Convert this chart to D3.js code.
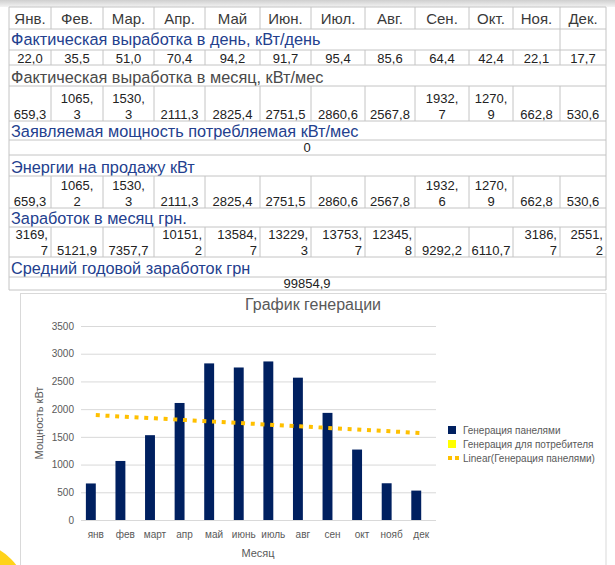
<!DOCTYPE html>
<html>
<head>
<meta charset="utf-8">
<script src="https://cdn.jsdelivr.net/npm/d3@7"></script>
<style>
  html, body { margin: 0; padding: 0; background: #fff; }
  svg { display: block; font-family: 'Liberation Sans', Arial, sans-serif; }
</style>
</head>
<body>
<div id="chart"></div>
<script>
'use strict';

/* Table data */
var tableMonths = ['Янв.', 'Фев.', 'Мар.', 'Апр.', 'Май', 'Июн.', 'Июл.', 'Авг.', 'Сен.', 'Окт.', 'Ноя.', 'Дек.'];
var dayOutput = [22.0, 35.5, 51.0, 70.4, 94.2, 91.7, 95.4, 85.6, 64.4, 42.4, 22.1, 17.7];
var monthOutput = [659.3, 1065.3, 1530.3, 2111.3, 2825.4, 2751.5, 2860.6, 2567.8, 1932.7, 1270.9, 662.8, 530.6];
var declaredPower = 0;
var saleEnergy = [659.3, 1065.2, 1530.3, 2111.3, 2825.4, 2751.5, 2860.6, 2567.8, 1932.6, 1270.9, 662.8, 530.6];
var monthIncome = [3169.7, 5121.9, 7357.7, 10151.2, 13584.7, 13229.3, 13753.7, 12345.8, 9292.2, 6110.7, 3186.7, 2551.2];
var yearIncome = 99854.9;

/* Chart data */
var chartMonths = ['янв', 'фев', 'март', 'апр', 'май', 'июнь', 'июль', 'авг', 'сен', 'окт', 'нояб', 'дек'];
var panelGen = monthOutput;
var consumerGen = [0, 0, 0, 0, 0, 0, 0, 0, 0, 0, 0, 0];
var seriesNames = ['Генерация панелями', 'Генерация для потребителя', 'Linear(Генерация панелями)'];
var yDomain = [0, 3500];

var W = 615, H = 565;
var blue = '#23408e', lineCol = '#c4c4c4';

var svg = d3.select('#chart').append('svg')
    .attr('width', W).attr('height', H);

var fmt = function (v) { return d3.format('.1f')(v).replace('.', ','); };

/* top grey strip */
var grad = svg.append('defs').append('linearGradient')
    .attr('id', 'topg').attr('x1', 0).attr('y1', 0).attr('x2', 0).attr('y2', 1);
grad.append('stop').attr('offset', 0).attr('stop-color', '#cfcfcf');
grad.append('stop').attr('offset', 1).attr('stop-color', '#f3f3f3');
svg.append('rect').attr('x', 0).attr('y', 0).attr('width', W).attr('height', 7).attr('fill', 'url(#topg)');

/* ---------- table ---------- */
var colEdges = [9, 51, 103, 154, 205, 260, 311, 365, 415, 469, 513, 560, 606];
var tbl = svg.append('g');

function hline(y) {
  tbl.append('line').attr('x1', 9).attr('x2', 606).attr('y1', y).attr('y2', y)
    .attr('stroke', lineCol).attr('stroke-width', 1);
}
function vlines(y0, y1, idx) {
  idx.forEach(function (i) {
    tbl.append('line').attr('x1', colEdges[i]).attr('x2', colEdges[i]).attr('y1', y0).attr('y2', y1)
      .attr('stroke', lineCol).attr('stroke-width', 1);
  });
}
var allCols = d3.range(colEdges.length);

function titleRow(y0, y1, text, color, base) {
  hline(y0);
  vlines(y0, y1, [0, 12]);
  tbl.append('text').attr('x', 11).attr('y', y1 - base)
    .attr('font-size', 16.3).attr('fill', color).text(text);
}

function valueRow(y0, y1, vals, wrap, align) {
  hline(y0);
  vlines(y0, y1, allCols);
  vals.forEach(function (v, i) {
    var s = fmt(v), l = colEdges[i], r = colEdges[i + 1];
    var lines = wrap.indexOf(i) >= 0 ? [s.split(',')[0] + ',', s.split(',')[1]] : [s];
    var a = lines.length > 1 ? align : 'middle';
    var x = a === 'end' ? r - 3 : (l + r) / 2;
    lines.forEach(function (t, k) {
      tbl.append('text').attr('x', x).attr('y', y1 - 2 - (lines.length - 1 - k) * 16.5)
        .attr('text-anchor', a).attr('font-size', 13).attr('fill', '#222').text(t);
    });
  });
}

/* header */
hline(7);
vlines(7, 29, allCols);
tableMonths.forEach(function (m, i) {
  tbl.append('text').attr('x', (colEdges[i] + colEdges[i + 1]) / 2).attr('y', 24)
    .attr('text-anchor', 'middle').attr('font-size', 15).attr('fill', '#3a3a3a').text(m);
});

titleRow(29, 50, 'Фактическая выработка в день, кВт/день', blue, 5);
vlines(29, 50, [11]);
valueRow(50, 65, dayOutput, [], 'middle');

titleRow(65, 86, 'Фактическая выработка в месяц, кВт/мес', '#4a4a4a', 3);
valueRow(86, 121, monthOutput, [1, 2, 8, 9], 'middle');

titleRow(121, 140, 'Заявляемая мощность потребляемая кВт/мес', blue, 3);
hline(140);
vlines(140, 155, [0, 12]);
tbl.append('text').attr('x', 307).attr('y', 152).attr('text-anchor', 'middle')
  .attr('font-size', 13).attr('fill', '#222').text(declaredPower);

titleRow(155, 176, 'Энергии на продажу кВт', blue, 3);
valueRow(176, 208, saleEnergy, [1, 2, 8, 9], 'middle');

titleRow(208, 227, 'Заработок в месяц грн.', blue, 3);
valueRow(227, 257, monthIncome, [0, 3, 4, 5, 6, 7, 10, 11], 'end');

titleRow(257, 277, 'Средний годовой заработок грн', blue, 3);
hline(277);
vlines(277, 290, [0, 12]);
tbl.append('text').attr('x', 307).attr('y', 288).attr('text-anchor', 'middle')
  .attr('font-size', 13).attr('fill', '#222').text(fmt(yearIncome));
hline(290);

/* ---------- chart ---------- */
svg.append('rect').attr('x', 20.5).attr('y', 293.5).attr('width', 585.5).attr('height', 290)
  .attr('fill', '#fff').attr('stroke', '#d9d9d9');

svg.append('circle').attr('cx', -30).attr('cy', 600).attr('r', 58).attr('fill', '#ffd31a');

var x0 = d3.scaleBand().domain(chartMonths).range([81, 436])
    .paddingInner(0.33).paddingOuter(0.165);
var x1 = d3.scaleBand().domain(['panel', 'consumer']).range([0, x0.bandwidth()]);
var y = d3.scaleLinear().domain(yDomain).range([520, 326]);

var g = svg.append('g');

svg.append('text').attr('x', 313).attr('y', 310).attr('text-anchor', 'middle')
  .attr('font-size', 16).attr('fill', '#595959').text('График генерации');

/* grid + y axis */
var yAxis = g.append('g').attr('transform', 'translate(81,0)')
  .call(d3.axisLeft(y).tickValues(d3.range(0, 3501, 500)).tickFormat(d3.format('d'))
    .tickSize(-355).tickPadding(7));
yAxis.select('.domain').remove();
yAxis.selectAll('.tick line').attr('stroke', '#d9d9d9');
yAxis.selectAll('.tick text').attr('fill', '#595959').attr('font-size', 10)
  .attr('font-family', "'Liberation Sans', Arial, sans-serif");

/* x labels */
var xAxis = g.append('g').attr('transform', 'translate(0,520)')
  .call(d3.axisBottom(x0).tickSize(0).tickPadding(11));
xAxis.select('.domain').remove();
xAxis.selectAll('.tick text').attr('fill', '#595959').attr('font-size', 10)
  .attr('font-family', "'Liberation Sans', Arial, sans-serif");
/* shift tick labels to centre of the whole category */
xAxis.selectAll('.tick').attr('transform', function (d) {
  return 'translate(' + (x0(d) + x0.bandwidth() / 2) + ',0)';
});

/* bars */
var rows = chartMonths.map(function (m, i) {
  return { m: m, panel: panelGen[i], consumer: consumerGen[i] };
});
var grp = g.selectAll('.cat').data(rows).enter().append('g')
  .attr('transform', function (d) { return 'translate(' + x0(d.m) + ',0)'; });
grp.append('rect')
  .attr('x', x1('panel')).attr('width', x1.bandwidth())
  .attr('y', function (d) { return y(d.panel); })
  .attr('height', function (d) { return y(0) - y(d.panel); })
  .attr('fill', '#002060');
grp.append('rect')
  .attr('x', x1('consumer')).attr('width', x1.bandwidth())
  .attr('y', function (d) { return y(d.consumer); })
  .attr('height', function (d) { return y(0) - y(d.consumer); })
  .attr('fill', '#ffff00');

/* linear trend of panel generation (least squares) */
var n = panelGen.length;
var mx = (n + 1) / 2, my = d3.mean(panelGen);
var sxy = d3.sum(panelGen, function (v, i) { return (i + 1 - mx) * (v - my); });
var sxx = d3.sum(panelGen, function (v, i) { return (i + 1 - mx) * (i + 1 - mx); });
var slope = sxy / sxx;
var trend = chartMonths.map(function (m, i) { return { m: m, v: my + slope * (i + 1 - mx) }; });

g.append('path').datum(trend)
  .attr('d', d3.line()
    .x(function (d) { return x0(d.m) + x0.bandwidth() / 2; })
    .y(function (d) { return y(d.v); }))
  .attr('fill', 'none').attr('stroke', '#ffc000').attr('stroke-width', 4)
  .attr('stroke-dasharray', '4,5.7');

/* axis titles */
svg.append('text').attr('x', 258).attr('y', 557).attr('text-anchor', 'middle')
  .attr('font-size', 11).attr('fill', '#595959').text('Месяц');
svg.append('text').attr('transform', 'translate(43,423) rotate(-90)').attr('text-anchor', 'middle')
  .attr('font-size', 11).attr('fill', '#595959').text('Мощность кВт');

/* legend */
var leg = svg.append('g').attr('transform', 'translate(448,430)');
leg.append('rect').attr('x', 0).attr('y', -4).attr('width', 8).attr('height', 8).attr('fill', '#002060');
leg.append('rect').attr('x', 0).attr('y', 10).attr('width', 8).attr('height', 8).attr('fill', '#ffff00');
leg.append('line').attr('x1', 0).attr('x2', 11).attr('y1', 28).attr('y2', 28)
  .attr('stroke', '#ffc000').attr('stroke-width', 4).attr('stroke-dasharray', '4,3');
seriesNames.forEach(function (s, i) {
  leg.append('text').attr('x', 15).attr('y', i * 14 + 3.5)
    .attr('font-size', 10).attr('fill', '#595959').text(s);
});
</script>
</body>
</html>
